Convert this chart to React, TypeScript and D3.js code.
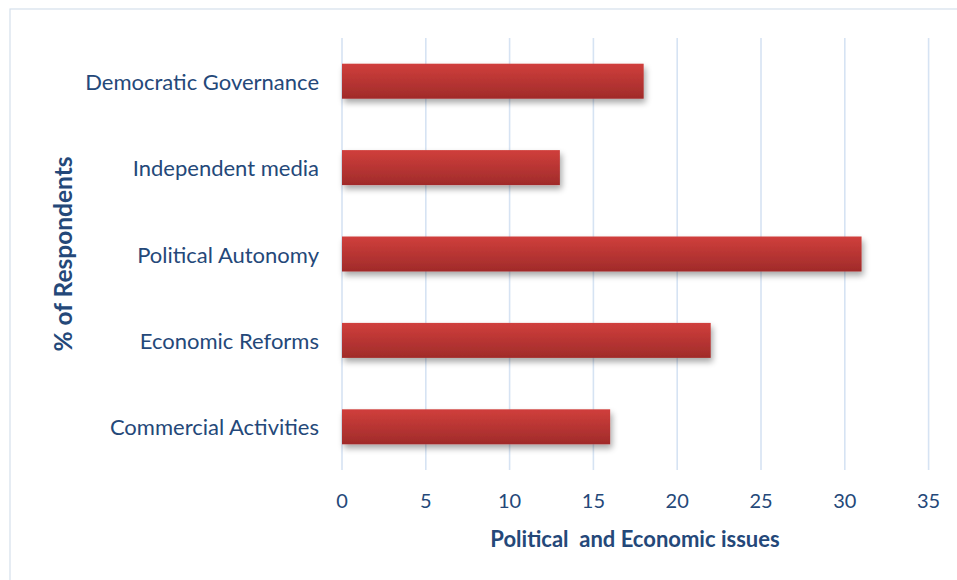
import React from "react";
import * as d3 from "d3";

const categories = [
  "Democratic Governance",
  "Independent media",
  "Political Autonomy",
  "Economic Reforms",
  "Commercial Activities",
];
const values = [18, 13, 31, 22, 16];
const xTicks = [0, 5, 10, 15, 20, 25, 30, 35];
const xTitle = "Political  and Economic issues";
const yTitle = "% of Respondents";

const W = 957;
const H = 580;
const margin = { left: 342, right: 28.4, top: 38, bottom: 110 };
const textColor = "#244879";
const font = "Lato, 'Open Sans', sans-serif";

export default function App() {
  const x = d3
    .scaleLinear()
    .domain([0, 35])
    .range([margin.left, W - margin.right]);
  const y = d3
    .scaleBand<string>()
    .domain(categories)
    .range([margin.top, H - margin.bottom])
    .paddingInner(0.595)
    .paddingOuter(0.2975);

  const plotBottom = H - margin.bottom;

  return (
    <svg
      width={W}
      height={H}
      style={{ position: "absolute", left: 0, top: 0, background: "#fff" }}
    >
      <defs>
        <linearGradient id="barGrad" x1="0" y1="0" x2="0" y2="1">
          <stop offset="0%" stopColor="#d03f3c" />
          <stop offset="100%" stopColor="#a02b2a" />
        </linearGradient>
        <filter id="shadow" x="-5%" y="-30%" width="115%" height="190%">
          <feGaussianBlur in="SourceAlpha" stdDeviation="3" />
          <feOffset dx="2" dy="4" result="b" />
          <feComponentTransfer>
            <feFuncA type="linear" slope="0.35" />
          </feComponentTransfer>
          <feMerge>
            <feMergeNode />
            <feMergeNode in="SourceGraphic" />
          </feMerge>
        </filter>
      </defs>
      <rect
        x={10}
        y={9}
        width={W + 10}
        height={H + 10}
        fill="none"
        stroke="#d5dfec"
        strokeWidth={1.2}
      />
      {xTicks.map((t) => (
        <line
          key={t}
          x1={x(t)}
          x2={x(t)}
          y1={margin.top}
          y2={plotBottom}
          stroke="#d6e3f3"
          strokeWidth={1.6}
        />
      ))}
      {categories.map((c, i) => (
        <rect
          key={c}
          x={x(0)}
          y={y(c)}
          width={x(values[i]) - x(0)}
          height={y.bandwidth()}
          fill="url(#barGrad)"
          filter="url(#shadow)"
        />
      ))}
      {categories.map((c) => (
        <text
          key={c}
          x={319}
          y={(y(c) as number) + y.bandwidth() / 2}
          textAnchor="end"
          dominantBaseline="central"
          fontFamily={font}
          fontSize={22}
          fill={textColor}
        >
          {c}
        </text>
      ))}
      {xTicks.map((t) => (
        <text
          key={t}
          x={x(t)}
          y={500}
          textAnchor="middle"
          dominantBaseline="central"
          fontFamily={font}
          fontSize={20}
          fill={textColor}
        >
          {t}
        </text>
      ))}
      <text
        x={635}
        y={538}
        textAnchor="middle"
        dominantBaseline="central"
        fontFamily={font}
        fontSize={22}
        fontWeight="bold"
        fill={textColor}
        style={{ whiteSpace: "pre" }}
      >
        {xTitle}
      </text>
      <text
        transform={`translate(62,254) rotate(-90)`}
        textAnchor="middle"
        dominantBaseline="central"
        fontFamily={font}
        fontSize={24.5}
        fontWeight="bold"
        fill={textColor}
      >
        {yTitle}
      </text>
    </svg>
  );
}
